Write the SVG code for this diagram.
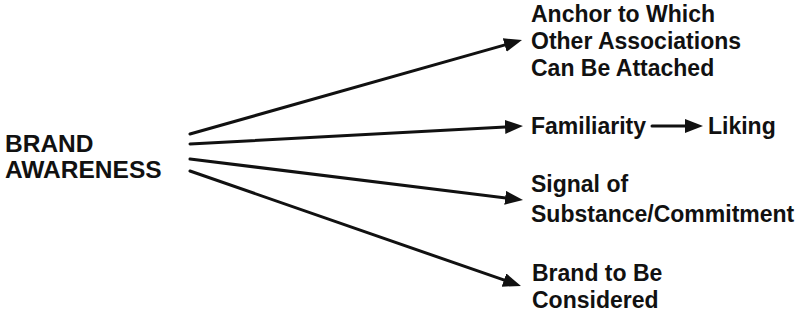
<svg xmlns="http://www.w3.org/2000/svg" width="798" height="320" viewBox="0 0 798 320">
<style>
.t{font-family:"Liberation Sans",Arial,sans-serif;font-weight:bold;font-size:23px;fill:#111}
.big{font-size:24.5px}
.c{stroke:#111;stroke-width:3;fill:none;stroke-linecap:round}
</style>
<defs>
<marker id="ah" markerUnits="userSpaceOnUse" markerWidth="19" markerHeight="15" refX="5" refY="7" orient="auto">
<path d="M0,0 L18,7 L0,14 z" fill="#111"/>
</marker>
</defs>
<rect width="798" height="320" fill="#fff"/>
<g id="connectors">
<line class="c" x1="190" y1="134" x2="509.5" y2="43.6" marker-end="url(#ah)"/>
<line class="c" x1="190" y1="144" x2="510" y2="126.7" marker-end="url(#ah)"/>
<line class="c" x1="190" y1="159" x2="510.1" y2="198.4" marker-end="url(#ah)"/>
<line class="c" x1="190" y1="171" x2="508.7" y2="281.7" marker-end="url(#ah)"/>
<line class="c" x1="652" y1="126" x2="690" y2="126" marker-end="url(#ah)"/>
</g>
<g id="brand-awareness">
<text class="t big" x="5" y="152">BRAND</text>
<text class="t big" x="5" y="178">AWARENESS</text>
</g>
<g id="anchor">
<text class="t" x="531" y="22">Anchor to Which</text>
<text class="t" x="531" y="49">Other Associations</text>
<text class="t" x="531" y="76">Can Be Attached</text>
</g>
<g id="familiarity">
<text class="t" x="531" y="134">Familiarity</text>
</g>
<g id="liking">
<text class="t" x="708" y="134">Liking</text>
</g>
<g id="signal">
<text class="t" x="531" y="192">Signal of</text>
<text class="t" x="531" y="222">Substance/Commitment</text>
</g>
<g id="brand-considered">
<text class="t" x="532" y="281">Brand to Be</text>
<text class="t" x="532" y="308">Considered</text>
</g>
</svg>
